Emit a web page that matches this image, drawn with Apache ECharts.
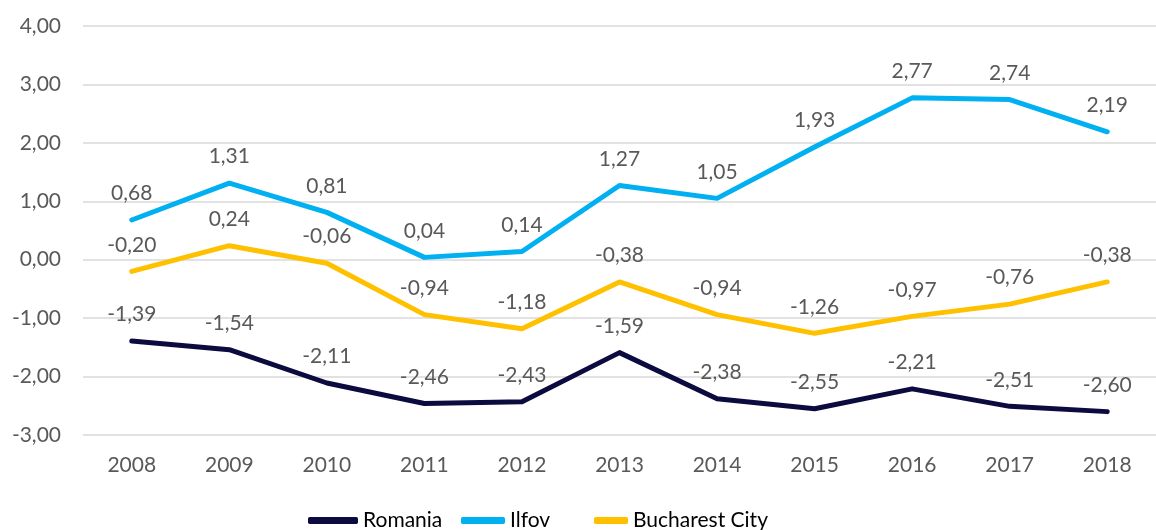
<!DOCTYPE html>
<html>
<head>
<meta charset="utf-8">
<script src="https://cdn.jsdelivr.net/npm/echarts@6/dist/echarts.min.js"></script>
<style>html,body{margin:0;padding:0;background:#fff;}#c{width:1156px;height:530px;}</style>
</head>
<body>
<div id="c"></div>
<script>
const years = ['2008','2009','2010','2011','2012','2013','2014','2015','2016','2017','2018'];
const romania = [-1.39,-1.54,-2.11,-2.46,-2.43,-1.59,-2.38,-2.55,-2.21,-2.51,-2.60];
const ilfov = [0.68,1.31,0.81,0.04,0.14,1.27,1.05,1.93,2.77,2.74,2.19];
const bucharest = [-0.20,0.24,-0.06,-0.94,-1.18,-0.38,-0.94,-1.26,-0.97,-0.76,-0.38];
const seriesNames = ['Romania','Ilfov','Bucharest City'];
const colors = ['#0C0B40','#00B0F0','#FFC000'];

const fmt = v => v.toFixed(2).replace('.', ',');
const FONT = 'Lato';
const TXT = '#595959';

function mkSeries(name, data, color) {
  return {
    name, type: 'line', data, color,
    symbol: 'circle', symbolSize: 0, showSymbol: true,
    itemStyle: { color },
    lineStyle: { width: 5, color, cap: 'round', join: 'round' },
    label: {
      show: true, position: 'top', distance: 16,
      formatter: p => fmt(p.value),
      fontFamily: FONT, fontSize: 21, color: TXT
    },
    labelLayout: { hideOverlap: false },
    emphasis: { disabled: true }
  };
}

const legendBase = {
  orient: 'horizontal', top: 510, itemHeight: 7, icon: 'roundRect',
  textStyle: { fontFamily: FONT, fontSize: 21, color: '#000' },
  padding: 0
};

const chart = echarts.init(document.getElementById('c'));
chart.setOption({
  animation: false,
  backgroundColor: '#fff',
  grid: { left: 83, top: 26, width: 1087, height: 409, containLabel: false },
  legend: [
    Object.assign({}, legendBase, { left: 308, itemWidth: 50, data: [seriesNames[0]] }),
    Object.assign({}, legendBase, { left: 461, itemWidth: 44, data: [seriesNames[1]] }),
    Object.assign({}, legendBase, { left: 594, itemWidth: 34, data: [seriesNames[2]] })
  ],
  xAxis: {
    type: 'category', data: years, boundaryGap: true,
    axisLine: { show: false }, axisTick: { show: false },
    axisLabel: { fontFamily: FONT, fontSize: 21, color: TXT, margin: 20 }
  },
  yAxis: {
    type: 'value', min: -3, max: 4, interval: 1,
    axisLine: { show: false }, axisTick: { show: false },
    axisLabel: { fontFamily: FONT, fontSize: 21, color: TXT, margin: 22, formatter: v => fmt(v) },
    splitLine: { lineStyle: { color: '#D9D9D9', width: 1.5 } }
  },
  series: [
    mkSeries(seriesNames[0], romania, colors[0]),
    mkSeries(seriesNames[1], ilfov, colors[1]),
    mkSeries(seriesNames[2], bucharest, colors[2])
  ]
});
</script>
</body>
</html>
